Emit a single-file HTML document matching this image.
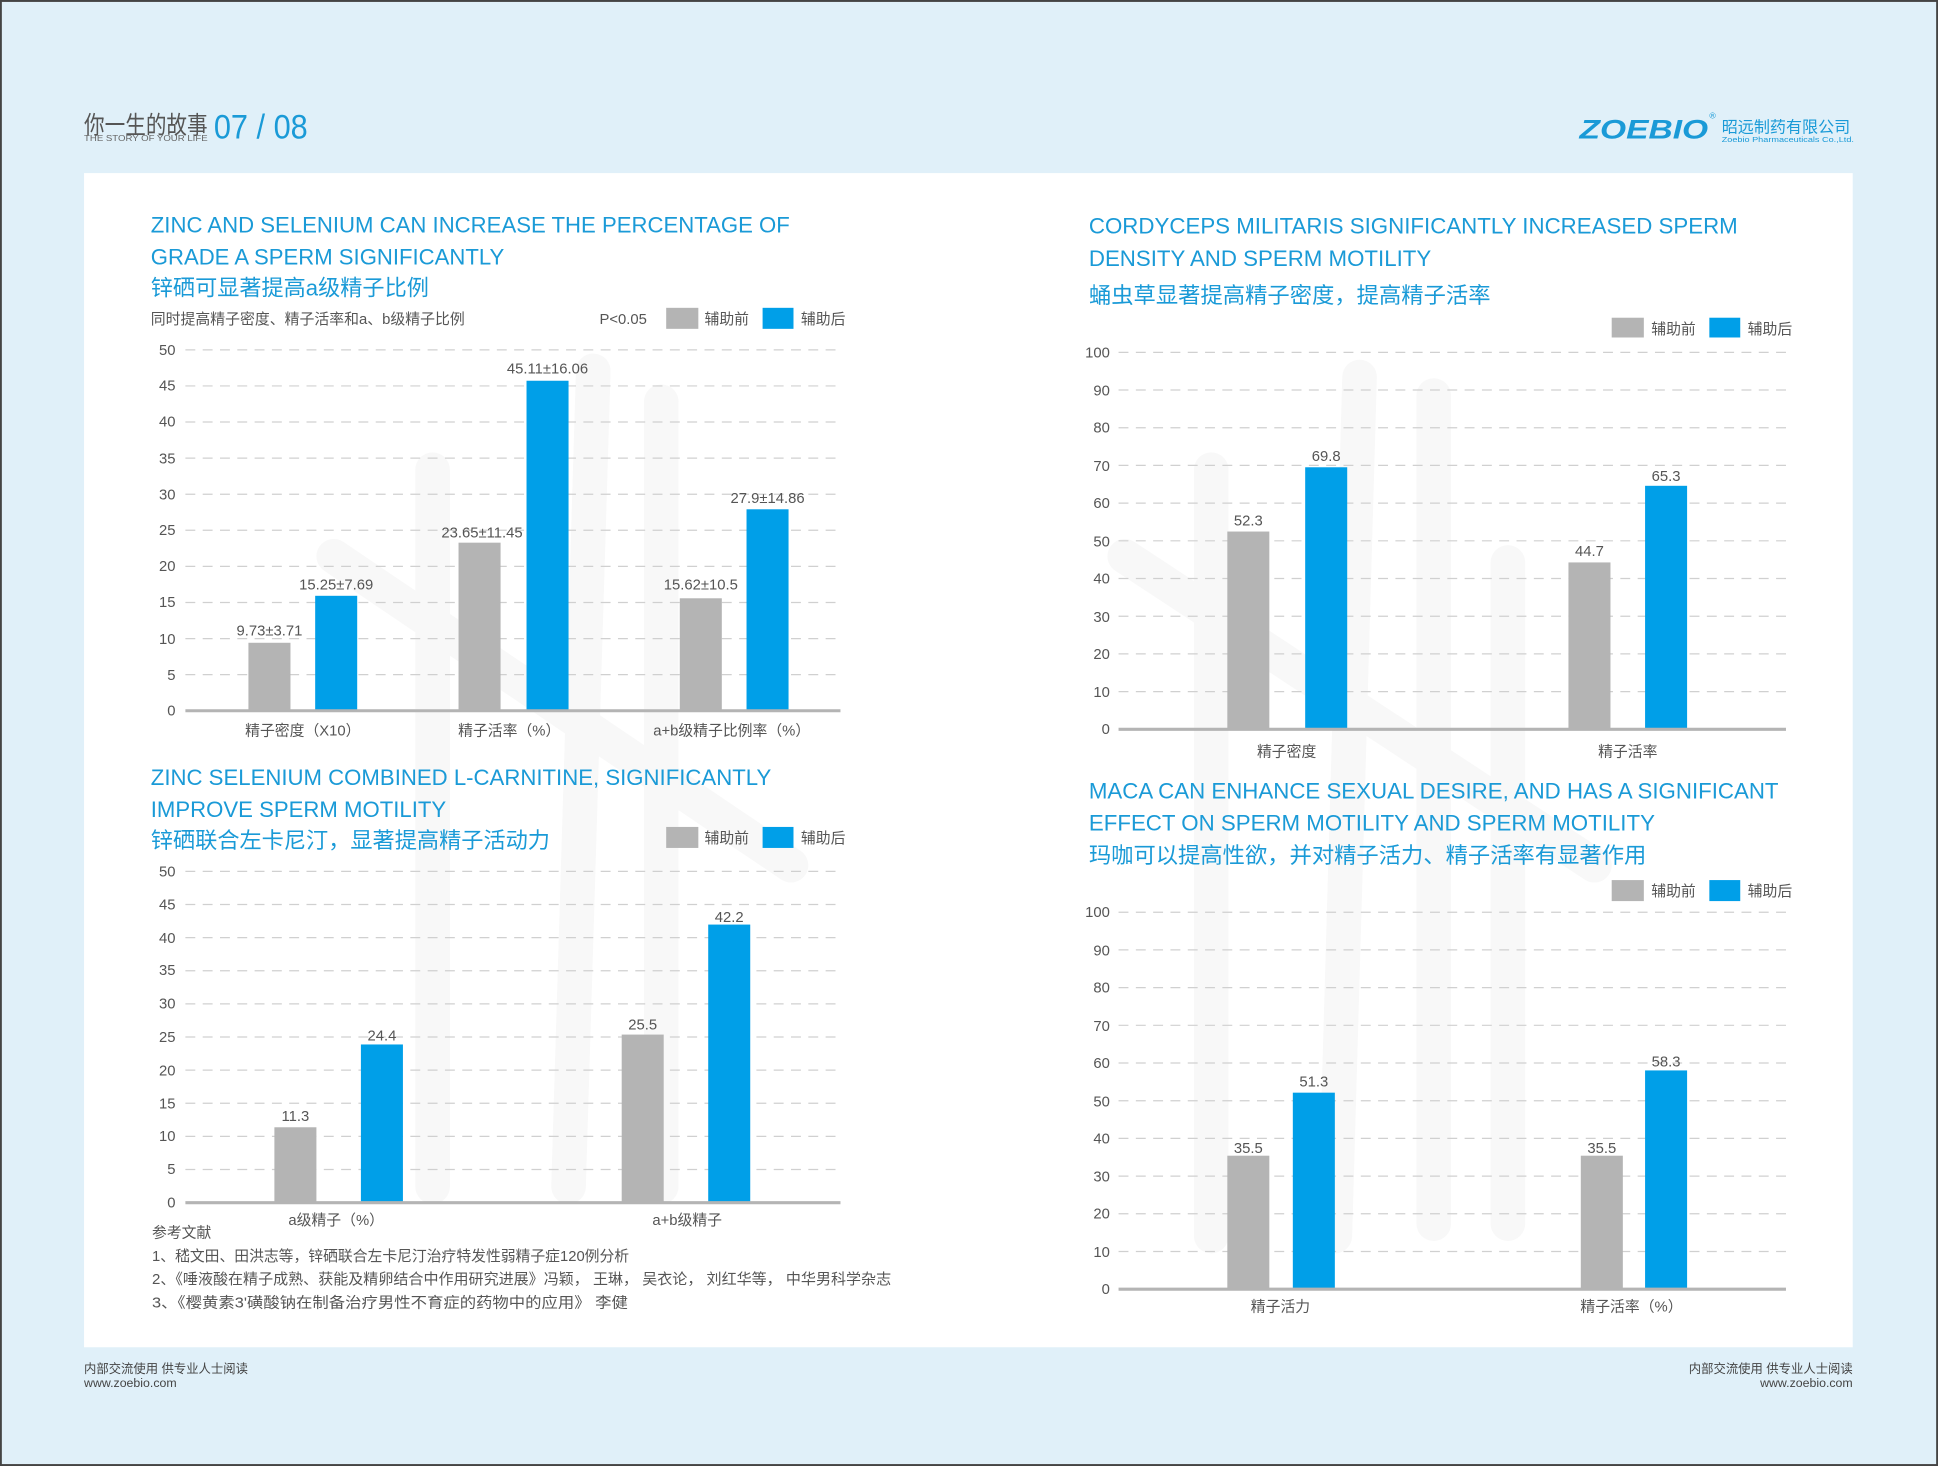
<!DOCTYPE html>
<html><head><meta charset="utf-8"><style>
html,body{margin:0;padding:0;background:#e0f0f9;}
svg{display:block}
text{font-family:"Liberation Sans","Noto Sans CJK SC",sans-serif;}
</style></head><body>
<svg width="1938" height="1466" viewBox="0 0 1568 1186" xmlns="http://www.w3.org/2000/svg">
<rect x="0" y="0" width="1568" height="1186" fill="#e0f0f9"/>
<rect x="0.5" y="0.5" width="1567" height="1185" fill="none" stroke="#444" stroke-width="2"/>
<text x="68" y="108" font-size="20" fill="#555" textLength="100" lengthAdjust="spacingAndGlyphs">你一生的故事</text>
<text x="68" y="114" font-size="7" fill="#666" textLength="100" lengthAdjust="spacingAndGlyphs">THE STORY OF YOUR LIFE</text>
<text x="173" y="112" font-size="28" fill="#1a9ad7" textLength="76" lengthAdjust="spacingAndGlyphs">07 / 08</text>
<text x="1278" y="112" font-size="22" font-weight="bold" font-style="italic" fill="#1a9ad7" textLength="104" lengthAdjust="spacingAndGlyphs">ZOEBIO</text>
<text x="1383" y="96" font-size="7" fill="#1a9ad7">®</text>
<text x="1393" y="107" font-size="13" fill="#1a9ad7" textLength="104" lengthAdjust="spacingAndGlyphs">昭远制药有限公司</text>
<text x="1393" y="115" font-size="6" fill="#1a9ad7" textLength="107" lengthAdjust="spacingAndGlyphs">Zoebio Pharmaceuticals  Co.,Ltd.</text>
<rect x="68" y="140" width="1431" height="950" fill="#fff"/>
<g stroke="#f8f8f8" stroke-width="28" stroke-linecap="round" fill="none">
<line x1="350" y1="380" x2="350" y2="960"/>
<line x1="480" y1="300" x2="460" y2="960"/>
<line x1="535" y1="325" x2="535" y2="960"/>
<line x1="270" y1="450" x2="640" y2="700"/>
<line x1="980" y1="380" x2="980" y2="1000"/>
<line x1="1100" y1="305" x2="1080" y2="1000"/>
<line x1="1160" y1="320" x2="1160" y2="990"/>
<line x1="1220" y1="455" x2="1220" y2="990"/>
<line x1="910" y1="450" x2="1290" y2="700"/>
</g>
<text x="68" y="1111" font-size="10" fill="#444">内部交流使用 供专业人士阅读</text>
<text x="68" y="1122" font-size="10" fill="#444">www.zoebio.com</text>
<text x="1499" y="1111" font-size="10" fill="#444" text-anchor="end">内部交流使用 供专业人士阅读</text>
<text x="1499" y="1122" font-size="10" fill="#444" text-anchor="end">www.zoebio.com</text>

<g fill="#1a9ad7" font-size="18">
<text x="122" y="188" textLength="517" lengthAdjust="spacingAndGlyphs">ZINC AND SELENIUM CAN INCREASE THE PERCENTAGE OF</text>
<text x="122" y="214" textLength="286" lengthAdjust="spacingAndGlyphs">GRADE A SPERM SIGNIFICANTLY</text>
<text x="122" y="239" textLength="225" lengthAdjust="spacingAndGlyphs">锌硒可显著提高a级精子比例</text>
<text x="122" y="635" textLength="502" lengthAdjust="spacingAndGlyphs">ZINC SELENIUM COMBINED L-CARNITINE, SIGNIFICANTLY</text>
<text x="122" y="661" textLength="239" lengthAdjust="spacingAndGlyphs">IMPROVE SPERM MOTILITY</text>
<text x="122" y="686" textLength="323" lengthAdjust="spacingAndGlyphs">锌硒联合左卡尼汀，显著提高精子活动力</text>
<text x="881" y="189" textLength="525" lengthAdjust="spacingAndGlyphs">CORDYCEPS MILITARIS SIGNIFICANTLY INCREASED SPERM</text>
<text x="881" y="215" textLength="277" lengthAdjust="spacingAndGlyphs">DENSITY AND SPERM MOTILITY</text>
<text x="881" y="245" textLength="325" lengthAdjust="spacingAndGlyphs">蛹虫草显著提高精子密度，提高精子活率</text>
<text x="881" y="646" textLength="558" lengthAdjust="spacingAndGlyphs">MACA CAN ENHANCE SEXUAL DESIRE, AND HAS A SIGNIFICANT</text>
<text x="881" y="672" textLength="458" lengthAdjust="spacingAndGlyphs">EFFECT ON SPERM MOTILITY AND SPERM MOTILITY</text>
<text x="881" y="698" textLength="451" lengthAdjust="spacingAndGlyphs">玛咖可以提高性欲，并对精子活力、精子活率有显著作用</text>
</g>

<g font-size="12" fill="#555">
<text x="122" y="262" textLength="254" lengthAdjust="spacingAndGlyphs">同时提高精子密度、精子活率和a、b级精子比例</text>
<text x="485" y="262">P&lt;0.05</text>
<rect x="539" y="249" width="26" height="17" fill="#b4b4b4"/><text x="570" y="262">辅助前</text>
<rect x="617" y="249" width="25" height="17" fill="#009fe8"/><text x="648" y="262">辅助后</text>
<rect x="539" y="669" width="26" height="17" fill="#b4b4b4"/><text x="570" y="682">辅助前</text>
<rect x="617" y="669" width="25" height="17" fill="#009fe8"/><text x="648" y="682">辅助后</text>
<rect x="1304" y="257" width="26" height="16" fill="#b4b4b4"/><text x="1336" y="270">辅助前</text>
<rect x="1383" y="257" width="25" height="16" fill="#009fe8"/><text x="1414" y="270">辅助后</text>
<rect x="1304" y="712" width="26" height="17" fill="#b4b4b4"/><text x="1336" y="725">辅助前</text>
<rect x="1383" y="712" width="25" height="17" fill="#009fe8"/><text x="1414" y="725">辅助后</text>
</g>

<g stroke="#d0d0d0" stroke-width="1" stroke-dasharray="8,6">
<line x1="150" x2="680" y1="283" y2="283"/><line x1="150" x2="680" y1="312.2" y2="312.2"/><line x1="150" x2="680" y1="341.4" y2="341.4"/><line x1="150" x2="680" y1="370.6" y2="370.6"/><line x1="150" x2="680" y1="399.8" y2="399.8"/><line x1="150" x2="680" y1="429" y2="429"/><line x1="150" x2="680" y1="458.2" y2="458.2"/><line x1="150" x2="680" y1="487.4" y2="487.4"/><line x1="150" x2="680" y1="516.6" y2="516.6"/><line x1="150" x2="680" y1="545.8" y2="545.8"/>
<line x1="150" x2="680" y1="705" y2="705"/><line x1="150" x2="680" y1="731.8" y2="731.8"/><line x1="150" x2="680" y1="758.6" y2="758.6"/><line x1="150" x2="680" y1="785.4" y2="785.4"/><line x1="150" x2="680" y1="812.2" y2="812.2"/><line x1="150" x2="680" y1="839" y2="839"/><line x1="150" x2="680" y1="865.8" y2="865.8"/><line x1="150" x2="680" y1="892.6" y2="892.6"/><line x1="150" x2="680" y1="919.4" y2="919.4"/><line x1="150" x2="680" y1="946.2" y2="946.2"/>
<line x1="905" x2="1445" y1="285" y2="285"/><line x1="905" x2="1445" y1="315.5" y2="315.5"/><line x1="905" x2="1445" y1="346" y2="346"/><line x1="905" x2="1445" y1="376.5" y2="376.5"/><line x1="905" x2="1445" y1="407" y2="407"/><line x1="905" x2="1445" y1="437.5" y2="437.5"/><line x1="905" x2="1445" y1="468" y2="468"/><line x1="905" x2="1445" y1="498.5" y2="498.5"/><line x1="905" x2="1445" y1="529" y2="529"/><line x1="905" x2="1445" y1="559.5" y2="559.5"/>
<line x1="905" x2="1445" y1="738" y2="738"/><line x1="905" x2="1445" y1="768.5" y2="768.5"/><line x1="905" x2="1445" y1="799" y2="799"/><line x1="905" x2="1445" y1="829.5" y2="829.5"/><line x1="905" x2="1445" y1="860" y2="860"/><line x1="905" x2="1445" y1="890.5" y2="890.5"/><line x1="905" x2="1445" y1="921" y2="921"/><line x1="905" x2="1445" y1="951.5" y2="951.5"/><line x1="905" x2="1445" y1="982" y2="982"/><line x1="905" x2="1445" y1="1012.5" y2="1012.5"/>
</g>

<g font-size="12" fill="#555" text-anchor="end">
<text x="142" y="287">50</text><text x="142" y="316">45</text><text x="142" y="345">40</text><text x="142" y="375">35</text><text x="142" y="404">30</text><text x="142" y="433">25</text><text x="142" y="462">20</text><text x="142" y="491">15</text><text x="142" y="521">10</text><text x="142" y="550">5</text><text x="142" y="579">0</text>
<text x="142" y="709">50</text><text x="142" y="736">45</text><text x="142" y="763">40</text><text x="142" y="789">35</text><text x="142" y="816">30</text><text x="142" y="843">25</text><text x="142" y="870">20</text><text x="142" y="897">15</text><text x="142" y="923">10</text><text x="142" y="950">5</text><text x="142" y="977">0</text>
<text x="898" y="289">100</text><text x="898" y="320">90</text><text x="898" y="350">80</text><text x="898" y="381">70</text><text x="898" y="411">60</text><text x="898" y="442">50</text><text x="898" y="472">40</text><text x="898" y="503">30</text><text x="898" y="533">20</text><text x="898" y="564">10</text><text x="898" y="594">0</text>
<text x="898" y="742">100</text><text x="898" y="773">90</text><text x="898" y="803">80</text><text x="898" y="834">70</text><text x="898" y="864">60</text><text x="898" y="895">50</text><text x="898" y="925">40</text><text x="898" y="956">30</text><text x="898" y="986">20</text><text x="898" y="1017">10</text><text x="898" y="1047">0</text>
</g>

<g fill="#b4b4b4">
<rect x="201" y="520" width="34" height="55"/>
<rect x="371" y="439" width="34" height="136"/>
<rect x="550" y="484" width="34" height="91"/>
<rect x="222" y="912" width="34" height="61"/>
<rect x="503" y="837" width="34" height="136"/>
<rect x="993" y="430" width="34" height="160"/>
<rect x="1269" y="455" width="34" height="135"/>
<rect x="993" y="935" width="34" height="108"/>
<rect x="1279" y="935" width="34" height="108"/>
</g>
<g fill="#009fe8">
<rect x="255" y="482" width="34" height="93"/>
<rect x="426" y="308" width="34" height="267"/>
<rect x="604" y="412" width="34" height="163"/>
<rect x="292" y="845" width="34" height="128"/>
<rect x="573" y="748" width="34" height="225"/>
<rect x="1056" y="378" width="34" height="212"/>
<rect x="1331" y="393" width="34" height="197"/>
<rect x="1046" y="884" width="34" height="159"/>
<rect x="1331" y="866" width="34" height="177"/>
</g>

<g stroke="#b4b4b4" stroke-width="2.5">
<line x1="150" x2="680" y1="575" y2="575"/>
<line x1="150" x2="680" y1="973" y2="973"/>
<line x1="905" x2="1445" y1="590" y2="590"/>
<line x1="905" x2="1445" y1="1043" y2="1043"/>
</g>

<g font-size="12" fill="#555" text-anchor="middle">
<text x="218" y="514">9.73±3.71</text>
<text x="272" y="477">15.25±7.69</text>
<text x="390" y="435">23.65±11.45</text>
<text x="443" y="302">45.11±16.06</text>
<text x="567" y="477">15.62±10.5</text>
<text x="621" y="407">27.9±14.86</text>
<text x="239" y="907">11.3</text>
<text x="309" y="842">24.4</text>
<text x="520" y="833">25.5</text>
<text x="590" y="746">42.2</text>
<text x="1010" y="425">52.3</text>
<text x="1073" y="373">69.8</text>
<text x="1286" y="450">44.7</text>
<text x="1348" y="389">65.3</text>
<text x="1010" y="933">35.5</text>
<text x="1063" y="879">51.3</text>
<text x="1296" y="933">35.5</text>
<text x="1348" y="863">58.3</text>
</g>

<g font-size="12" fill="#555" text-anchor="middle">
<text x="245" y="595">精子密度（X10）</text>
<text x="412" y="595">精子活率（%）</text>
<text x="592" y="595">a+b级精子比例率（%）</text>
<text x="272" y="991">a级精子（%）</text>
<text x="556" y="991">a+b级精子</text>
<text x="1041" y="612">精子密度</text>
<text x="1317" y="612">精子活率</text>
<text x="1036" y="1061">精子活力</text>
<text x="1320" y="1061">精子活率（%）</text>
</g>

<g font-size="12" fill="#555">
<text x="123" y="1001">参考文献</text>
<text x="123" y="1020" textLength="386" lengthAdjust="spacingAndGlyphs">1、嵇文田、田洪志等，锌硒联合左卡尼汀治疗特发性弱精子症120例分析</text>
<text x="123" y="1039" textLength="598" lengthAdjust="spacingAndGlyphs">2、《唾液酸在精子成熟、获能及精卵结合中作用研究进展》冯颖， 王琳， 吴衣论， 刘红华等， 中华男科学杂志</text>
<text x="123" y="1058" textLength="385" lengthAdjust="spacingAndGlyphs">3、《樱黄素3'磺酸钠在制备治疗男性不育症的药物中的应用》 李健</text>
</g>
</svg>
</body></html>
